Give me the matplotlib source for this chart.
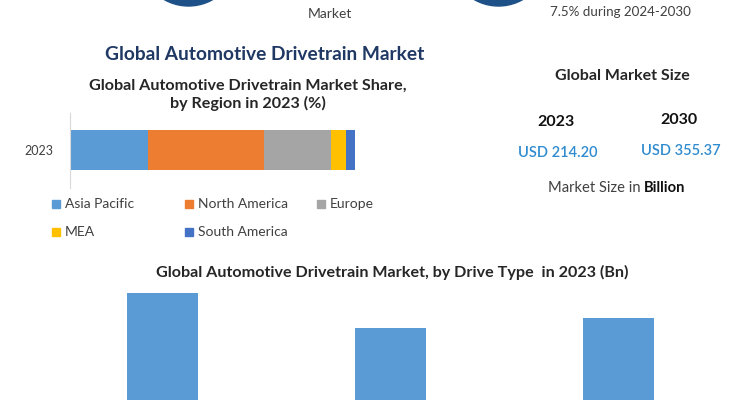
import matplotlib
matplotlib.use("Agg")
import matplotlib.pyplot as plt
from matplotlib.patches import Circle, Rectangle

plt.rcParams["font.family"] = ["Lato", "DejaVu Sans"]

# ── data ─────────────────────────────────────────────
regions = ["Asia Pacific", "North America", "Europe", "MEA", "South America"]
region_share = [27.3, 40.8, 23.5, 5.4, 3.0]
region_colors = ["#5B9BD5", "#ED7D31", "#A5A5A5", "#FFC000", "#4472C4"]
share_year = "2023"

drive_types = ["Front Wheel Drive", "Rear Wheel Drive", "All Wheel Drive"]
drive_values = [81.1, 64.1, 69.0]

size_years = ["2023", "2030"]
size_values = ["USD 214.20", "USD 355.37"]

NAVY = "#203864"
DARK = "#262626"
GRAY_TXT = "#404040"
USD_BLUE = "#2E8BCF"
CIRCLE = "#1D5187"

W, H = 735, 400
fig = plt.figure(figsize=(W / 100, H / 100), dpi=100)

# background layer in pixel coordinates (y down)
bg = fig.add_axes([0, 0, 1, 1])
bg.set_xlim(0, W)
bg.set_ylim(H, 0)
bg.axis("off")

# decorative circles cut off at the top edge
bg.add_patch(Circle((188.5, -43), 49, color=CIRCLE, zorder=1))
bg.add_patch(Circle((498.5, -43), 49, color=CIRCLE, zorder=1))
bg.text(330, 14, "Market", ha="center", va="center", fontsize=10, color=GRAY_TXT)
bg.text(620, 12, "7.5% during 2024-2030", ha="center", va="center", fontsize=9.6, color=GRAY_TXT)

# titles
bg.text(265, 55, "Global Automotive Drivetrain Market", ha="center", va="center",
        fontsize=13.8, fontweight="bold", color=NAVY)
bg.text(248, 95, "Global Automotive Drivetrain Market Share,\nby Region in 2023 (%)",
        ha="center", va="center", fontsize=11.6, fontweight="bold", color=DARK, linespacing=1.3)
bg.text(392, 272, "Global Automotive Drivetrain Market, by Drive Type  in 2023 (Bn)",
        ha="center", va="center", fontsize=11.6, fontweight="bold", color=DARK)

# right side: market size
bg.text(622, 76, "Global Market Size", ha="center", va="center", fontsize=11.5,
        fontweight="bold", color=DARK)
for xc, yy, yr, val in zip([556, 679], [122, 120], size_years, size_values):
    bg.text(xc, yy, yr, ha="center", va="center", fontsize=11.5, fontweight="bold", color="#111111")
    bg.text(xc + 2, yy + 31, val, ha="center", va="center", fontsize=10.5,
            fontweight="semibold", color=USD_BLUE)
t = bg.text(644, 188, "Market Size in ", ha="right", va="center", fontsize=10.6, color=GRAY_TXT)
bg.annotate("Billion", xy=(1, 0), xycoords=t, va="bottom", ha="left",
            fontsize=10.6, fontweight="bold", color="#111111")

# ── stacked region bar ───────────────────────────────
ax1 = fig.add_axes([70 / W, (H - 188) / H, 285 / W, 75 / H])
left = 0
for name, v, c in zip(regions, region_share, region_colors):
    ax1.barh([share_year], [v], left=left, height=0.8, color=c, label=name)
    left += v
ax1.set_xlim(0, sum(region_share))
ax1.set_ylim(-0.76, 0.74)
for s in ["top", "right", "bottom"]:
    ax1.spines[s].set_visible(False)
ax1.spines["left"].set_color("#D9D9D9")
ax1.set_xticks([])
ax1.tick_params(axis="y", length=0, labelsize=9, labelcolor=GRAY_TXT, pad=12)

# legend laid out like the office chart: fixed columns, 3 per row
leg_x = [52, 185, 317]
leg_y = [204, 232]
for i, (name, c) in enumerate(zip(regions, region_colors)):
    lx, ly = leg_x[i % 3], leg_y[i // 3]
    bg.add_patch(Rectangle((lx, ly - 4), 8, 8, color=c))
    bg.text(lx + 13, ly, name, ha="left", va="center", fontsize=10, color=GRAY_TXT)

# ── drive type bars (cut off at the bottom) ──────────
ax2 = fig.add_axes([48.5 / W, -60 / H, 684 / W, 175 / H])
ax2.bar(range(len(drive_types)), drive_values, width=0.31, color="#5B9BD5")
ax2.set_xlim(-0.5, len(drive_types) - 0.5)
ax2.set_ylim(0, 85)
ax2.axis("off")

fig.savefig("out.png", dpi=100, facecolor="white")
